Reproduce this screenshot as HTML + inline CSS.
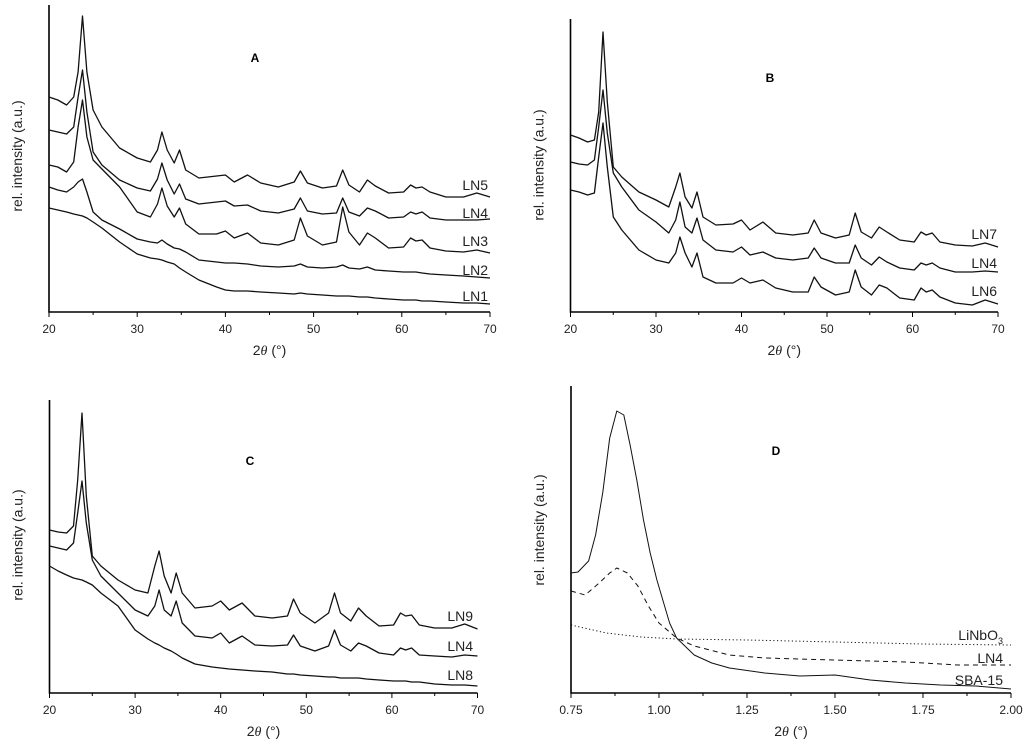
<!DOCTYPE html>
<html><head><meta charset="utf-8"><style>
html,body{margin:0;padding:0;background:#fff;}
svg{display:block;font-family:"Liberation Sans",sans-serif;}
</style></head><body>
<svg id="fig" width="1024" height="749" viewBox="0 0 1024 749"></svg>
<script>
// shared 2theta grid for panels A-C
const twoTheta = [20,21,22,22.8,23.3,23.8,24.3,25,26,28,30,31.5,32.3,32.8,33.4,34.2,34.8,35.5,37,39,40,41,42.5,44,46,47.8,48.5,49.3,51,52.6,53.3,54,55.2,56.1,57,58.5,60.2,61,61.6,62.3,63.2,65,67,68.5,70];
// Panel A
const aLN5 = [215,212,207,215,240,296,240,202,185,164,154,150,162,180,162,149,162,142,134,136,137,130,137,129,125,130,141,129,124,126,142,127,120,132,126,119,120,127,124,125,120,115,115,119,115];
const aLN4 = [182,180,178,185,215,242,200,160,147,132,124,121,133,149,132,118,128,113,108,110,111,106,107,101,99,103,114,101,98,99,114,100,96,104,101,94,95,100,98,100,94,92,92,92,93];
const aLN3 = [147,145,140,150,185,212,175,152,143,125,100,95,108,124,106,95,104,88,78,78,81,74,79,69,67,72,94,76,67,70,105,80,67,79,74,64,65,74,71,72,64,61,60,62,59];
const aLN2 = [125,122,120,125,130,133,120,100,92,83,73,70,69,72,68,64,63,60,52,50,49,49,48,46,45,46,48,45,44,45,47,44,43,45,42,41,40,40,40,39,38,37,36,35,34];
const aLN1 = [104,102,100,98,97,96,94,90,84,70,58,54,53,52,50,48,44,40,32,25,22,21,21,20,19,18,19,18,17,16,16,16,15,15,14,13,12,12,12,11,11,10,9,9,8];
// Panel B
const bLN7 = [177,174,170,172,200,280,210,145,135,120,112,105,125,139,115,104,120,95,87,88,92,82,90,79,77,79,92,79,74,77,99,80,74,85,80,72,70,80,77,79,70,67,66,69,65];
const bLN4 = [150,148,147,152,185,222,179,139,125,102,90,79,92,110,85,79,94,72,62,60,65,57,60,54,52,54,64,54,49,49,67,54,47,55,50,44,42,49,47,49,44,40,40,41,40];
const bLN6 = [122,120,117,119,155,189,145,95,82,62,52,49,59,75,59,45,59,35,29,29,34,29,32,24,20,20,35,25,17,20,42,25,17,27,24,14,12,24,20,22,15,9,7,12,8];
// Panel C
const cLN9 = [163,161,160,167,213,280,197,137,127,113,103,100,127,142,117,100,120,100,85,87,92,83,90,77,75,77,94,80,70,80,100,80,72,85,77,67,68,80,77,78,68,65,65,69,64];
const cLN4 = [147,145,143,150,180,212,170,133,117,100,83,77,87,103,83,77,92,70,57,55,60,50,57,48,47,48,58,47,42,47,63,48,42,50,47,40,38,45,43,45,38,37,36,38,37];
const cLN8 = [127,122,118,115,114,113,111,108,100,87,63,54,50,48,45,42,39,35,29,26,25,24,23,22,21,19,19,18,17,16,16,15,15,15,14,13,12,12,12,11,11,9,8,8,7];
// Panel D
const dSbaX = [0.75,0.77,0.80,0.82,0.84,0.86,0.88,0.90,0.918,0.937,0.956,0.975,0.994,1.03,1.05,1.10,1.15,1.20,1.30,1.40,1.50,1.60,1.70,1.80,1.90,2.00];
const dSbaY = [120,121,132,158,200,255,282,278,248,213,173,140,113,70,55,38,30,25,20,17,18,13,10,8,7,4];
const dLn4X = [0.75,0.79,0.83,0.86,0.88,0.91,0.94,0.97,1.00,1.05,1.10,1.20,1.30,1.50,1.70,1.85,2.00];
const dLn4Y = [102,98,110,120,125,120,107,87,70,55,47,38,35,33,31,28,28];
const dLiX = [0.75,0.85,0.95,1.05,1.25,1.50,1.75,2.00];
const dLiY = [68,60,56,54,53,51,49,48];
const xTicksXRD = [20,30,40,50,60,70];
const xTicksD = ["0.75","1.00","1.25","1.50","1.75","2.00"];

const NS="http://www.w3.org/2000/svg";
const svg=document.getElementById('fig');
function mk(tag,attrs,parent){const e=document.createElementNS(NS,tag);for(const k in attrs)e.setAttribute(k,attrs[k]);(parent||svg).appendChild(e);return e;}

function panel(p){
  const g=mk('g',{});
  
  
  const sx=v=>p.x0+(v-p.xmin)/(p.xmax-p.xmin)*(p.x1-p.x0);
  const sy=v=>p.yb-v;
  const ax=mk('path',{d:`M${p.x0},${p.yt} V${p.yb} H${p.x1}`,stroke:'#000','stroke-width':1.6,fill:'none'},g);
  
  
  const ticks=p.ticks;
  for(let i=0;i<ticks.length;i++){
    const v=parseFloat(ticks[i]);const x=sx(v);
    mk('line',{x1:x,x2:x,y1:p.yb,y2:p.yb+5,stroke:'#000','stroke-width':1},g);
    const t=mk('text',{x:x,y:p.yb+21,'text-anchor':'middle','font-size':12,fill:'#222'},g);
    t.textContent=ticks[i];
    
    
    if(i<ticks.length-1){const v2=(v+parseFloat(ticks[i+1]))/2;const xm=sx(v2);
      mk('line',{x1:xm,x2:xm,y1:p.yb,y2:p.yb+3,stroke:'#000','stroke-width':1},g);}
  }
  const xt=mk('text',{x:(p.x0+p.x1)/2,y:p.yb+43,'text-anchor':'middle','font-size':14,fill:'#222'},g);
  xt.innerHTML='2<tspan font-style="italic" font-family="Liberation Serif">θ</tspan> (°)';
  
  
  const yt=mk('text',{transform:`translate(${p.x0-27},${p.ycenter}) rotate(-90)`,'text-anchor':'middle','font-size':14,fill:'#222'},g);
  yt.textContent='rel. intensity (a.u.)';
  
  
  const pl=mk('text',{x:p.lx,y:p.ly,'text-anchor':'middle','font-size':12,'font-weight':'bold',fill:'#000'},g);
  pl.textContent=p.id;
  
  
  p.series.forEach(s=>{
    const xs=s.x||twoTheta;
    let d='';for(let i=0;i<xs.length;i++)d+=(i?'L':'M')+sx(xs[i]).toFixed(1)+','+sy(s.y[i]).toFixed(1);
    const path=mk('path',{d:d,stroke:'#111','stroke-width':s.x?1:1.3,fill:'none','stroke-linejoin':'round'},g);
    if(s.dash)path.setAttribute('stroke-dasharray',s.dash);
    
    
    const lb=mk('text',{x:p.labelX,y:s.ly,'text-anchor':'end','font-size':14,fill:'#222'},g);
    lb.innerHTML=s.label||s.name;
    
    
  });
}
panel({id:'A',x0:49,x1:490,yb:312,yt:5,xmin:20,xmax:70,ticks:xTicksXRD,ycenter:156,lx:255,ly:62,labelX:488,
  series:[{name:'LN5',y:aLN5,ly:190},{name:'LN4',y:aLN4,ly:218},{name:'LN3',y:aLN3,ly:246},{name:'LN2',y:aLN2,ly:275},{name:'LN1',y:aLN1,ly:301}]});
panel({id:'B',x0:570.5,x1:998,yb:312,yt:19,xmin:20,xmax:70,ticks:xTicksXRD,ycenter:165,lx:770,ly:82,labelX:997,
  series:[{name:'LN7',y:bLN7,ly:239},{name:'LN4',y:bLN4,ly:268},{name:'LN6',y:bLN6,ly:296}]});
panel({id:'C',x0:49.5,x1:477.5,yb:693,yt:400,xmin:20,xmax:70,ticks:xTicksXRD,ycenter:545,lx:250,ly:465,labelX:473,
  series:[{name:'LN9',y:cLN9,ly:621},{name:'LN4',y:cLN4,ly:651},{name:'LN8',y:cLN8,ly:680}]});
panel({id:'D',x0:571,x1:1011,yb:693,yt:386,xmin:0.75,xmax:2.0,ticks:xTicksD,ycenter:530,lx:776,ly:455,labelX:1003,
  series:[{name:'LiNbO3',label:'LiNbO<tspan font-size="9" dy="4">3</tspan>',x:dLiX,y:dLiY,dash:'1.2,2.5',ly:640},
          {name:'LN4',x:dLn4X,y:dLn4Y,dash:'5,4',ly:663},
          {name:'SBA-15',x:dSbaX,y:dSbaY,ly:685}]});
</script>
</body></html>
